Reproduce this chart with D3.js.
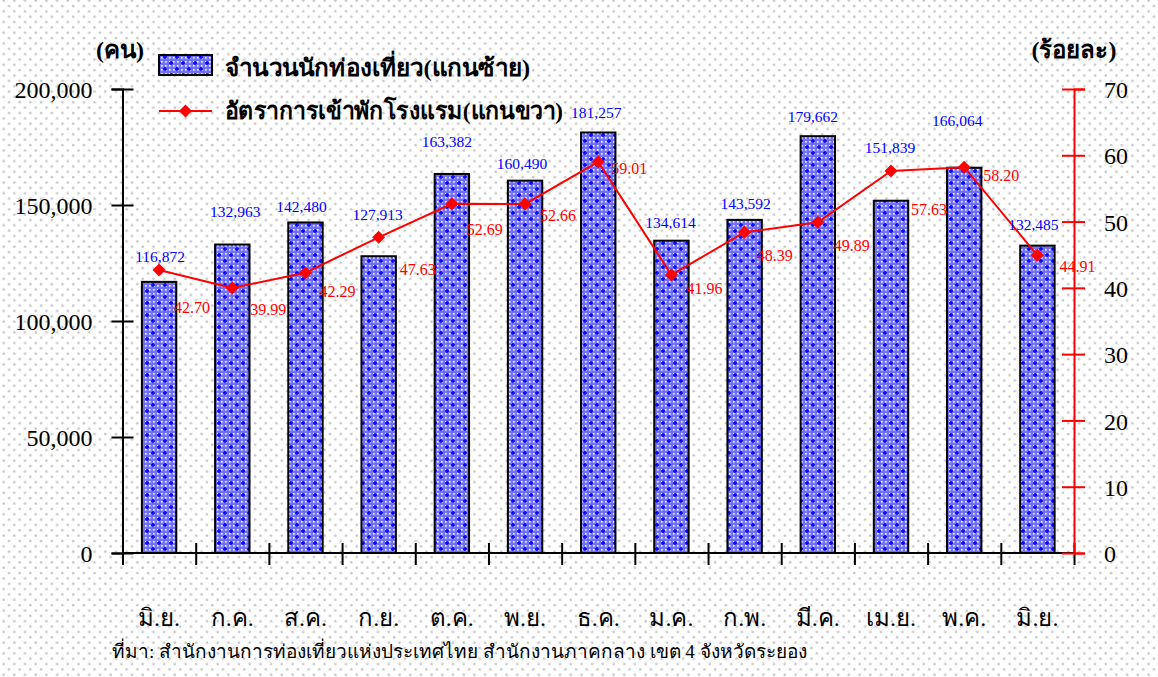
<!DOCTYPE html>
<meta charset="utf-8">
<style>
  body { margin: 0; background: #fff; }
  svg { display: block; font-family: "Liberation Serif", "Times New Roman", serif; }
  .axis path { stroke-width: 2px; }
  .axis line { stroke-width: 2px; }
  .left.axis text, .right.axis text {
    font-family: "Liberation Serif", "Times New Roman", serif;
    font-size: 24px;
    fill: #000;
  }
  .legend text { font-size: 24px; font-weight: bold; }
</style>
<body>
<script src="https://cdn.jsdelivr.net/npm/d3@7"></script>
<script>
  // months (Thai abbreviations)
  var months = ["มิ.ย.", "ก.ค.", "ส.ค.", "ก.ย.", "ต.ค.", "พ.ย.", "ธ.ค.",
    "ม.ค.", "ก.พ.", "มี.ค.", "เม.ย.", "พ.ค.", "มิ.ย."];
  // number of tourists (left axis)
  var tourists = [116872, 132963, 142480, 127913, 163382, 160490, 181257,
    134614, 143592, 179662, 151839, 166064, 132485];
  // hotel occupancy rate, percent (right axis)
  var occupancy = [42.70, 39.99, 42.29, 47.63, 52.69, 52.66, 59.01,
    41.96, 48.39, 49.89, 57.63, 58.20, 44.91];
  var leftTicks = [0, 50000, 100000, 150000, 200000];
  var rightTicks = [0, 10, 20, 30, 40, 50, 60, 70];

  var legendBar = "จำนวนนักท่องเที่ยว(แกนซ้าย)";
  var legendLine = "อัตราการเข้าพักโรงแรม(แกนขวา)";
  var unitLeft = "(คน)", unitRight = "(ร้อยละ)";
  var source = "ที่มา:  สำนักงานการท่องเที่ยวแห่งประเทศไทย สำนักงานภาคกลาง เขต 4  จังหวัดระยอง";

  // hand placed label nudges (px), as in the original sheet
  var barLabelNudge = [[1, -25], [3, -33], [-4, -16], [-1, -42], [-5, -32], [-3, -17], [-2, -20],
    [-1, -18], [1, -16], [-5, -20], [-1, -53], [-7, -47], [-4, -21]];
  var lineLabelNudge = [[15, 37], [18, 21], [14, 19], [21, 32], [15, 26], [15, 11], [13, 7],
    [15, 14], [12, 23], [16, 23], [20, 38], [19, 8], [22, 11]];

  var W = 1158, H = 677;
  var plotL = 122.5, plotR = 1074, plotT = 89, plotB = 553;

  var svg = d3.select("body").append("svg")
    .attr("width", W)
    .attr("height", H);

  var defs = svg.append("defs");

  // dotted background
  var bg = defs.append("pattern")
    .attr("id", "bgdots")
    .attr("patternUnits", "userSpaceOnUse")
    .attr("width", 10.7).attr("height", 10.7);
  bg.append("rect").attr("width", 10.7).attr("height", 10.7).attr("fill", "#fff");
  bg.append("circle").attr("cx", 9).attr("cy", 6).attr("r", 1.3).attr("fill", "#c8c8c8");
  bg.append("circle").attr("cx", 3.65).attr("cy", 0.65).attr("r", 1.3).attr("fill", "#c8c8c8");
  bg.append("circle").attr("cx", 3.65).attr("cy", 11.35).attr("r", 1.3).attr("fill", "#c8c8c8");

  // bar fill
  var bp = defs.append("pattern")
    .attr("id", "barfill")
    .attr("patternUnits", "userSpaceOnUse")
    .attr("width", 12).attr("height", 12);
  bp.append("rect").attr("width", 12).attr("height", 12).attr("fill", "#7070fa");
  d3.range(3).forEach(function (i) {
    d3.range(3).forEach(function (j) {
      bp.append("rect").attr("x", i * 4 + 1).attr("y", j * 4 + 1)
        .attr("width", 1.7).attr("height", 1.7).attr("fill", "#eeeeff");
    });
  });
  [[3, 3], [9, 9]].forEach(function (c) {
    bp.append("path")
      .attr("d", "M" + (c[0] - 2) + "," + c[1] + "h4M" + c[0] + "," + (c[1] - 2) + "v4")
      .attr("stroke", "#0000ff").attr("stroke-width", 1.4);
  });

  svg.append("rect").attr("width", W).attr("height", H).attr("fill", "url(#bgdots)");

  var idx = d3.range(months.length);
  var x = d3.scaleBand().domain(idx).range([plotL, plotR]).paddingInner(0.53).paddingOuter(0.265);
  var xb = d3.scaleLinear().domain([0, months.length]).range([plotL, plotR]);
  var y = d3.scaleLinear().domain([0, 200000]).range([plotB, plotT]);
  var y2 = d3.scaleLinear().domain([0, 70]).range([plotB, plotT]);
  var cx = function (i) { return xb(i + 0.5); };

  // bars
  svg.selectAll(".bar")
    .data(tourists)
    .enter().append("rect")
    .attr("class", "bar")
    .attr("x", function (d, i) { return cx(i) - x.bandwidth() / 2; })
    .attr("y", function (d) { return y(d); })
    .attr("width", x.bandwidth())
    .attr("height", function (d) { return y(0) - y(d); })
    .attr("fill", "url(#barfill)")
    .attr("stroke", "#000")
    .attr("stroke-width", 2);

  // left axis
  var gl = svg.append("g")
    .attr("class", "left axis")
    .attr("transform", "translate(" + plotL + ",0)")
    .call(d3.axisLeft(y).tickValues(leftTicks).tickFormat(d3.format(",")).tickSize(11).tickPadding(19));
  gl.attr("font-family", null);
  gl.select(".domain").attr("stroke", "#000");
  gl.selectAll(".tick line").attr("x1", -11).attr("x2", 11);
  gl.selectAll(".tick text").attr("dy", "0.36em");

  // x axis with ticks between months
  var gx = svg.append("g")
    .attr("class", "x axis")
    .attr("transform", "translate(0," + plotB + ")")
    .call(d3.axisBottom(xb).tickValues(d3.range(months.length + 1)).tickFormat("").tickSizeOuter(0));
  gx.selectAll(".tick line").attr("y1", -10).attr("y2", 12);
  gx.select(".domain").attr("d", "M" + plotL + ",0H" + plotR);

  svg.selectAll(".month")
    .data(months)
    .enter().append("text")
    .attr("class", "month")
    .attr("x", function (d, i) { return cx(i); })
    .attr("y", 618)
    .attr("dy", "0.35em")
    .attr("text-anchor", "middle")
    .style("font-size", "24px")
    .text(function (d) { return d; });

  // right axis
  var gr = svg.append("g")
    .attr("class", "right axis")
    .attr("transform", "translate(" + plotR + ",0)")
    .call(d3.axisRight(y2).tickValues(rightTicks).tickSize(11).tickPadding(19));
  gr.attr("font-family", null);
  gr.select(".domain").attr("stroke", "#f00");
  gr.selectAll(".tick line").attr("stroke", "#f00").attr("x1", -12).attr("x2", 11);
  gr.selectAll(".tick text").attr("dy", "0.36em");

  // occupancy line
  var line = d3.line()
    .x(function (d, i) { return cx(i); })
    .y(function (d) { return y2(d); });

  svg.append("path")
    .datum(occupancy)
    .attr("d", line)
    .attr("fill", "none")
    .attr("stroke", "#f00")
    .attr("stroke-width", 2);

  var diamond = d3.symbol().type(d3.symbolSquare).size(85);
  svg.selectAll(".marker")
    .data(occupancy)
    .enter().append("path")
    .attr("class", "marker")
    .attr("d", diamond)
    .attr("transform", function (d, i) { return "translate(" + cx(i) + "," + y2(d) + ") rotate(45)"; })
    .attr("fill", "#f00");

  // value labels
  svg.selectAll(".barlabel")
    .data(tourists)
    .enter().append("text")
    .attr("class", "barlabel")
    .attr("x", function (d, i) { return cx(i) + barLabelNudge[i][0]; })
    .attr("y", function (d, i) { return y(d) + barLabelNudge[i][1]; })
    .attr("dy", "0.35em")
    .attr("text-anchor", "middle")
    .attr("fill", "#0000ff")
    .style("font-size", "15.5px")
    .text(d3.format(","));

  svg.selectAll(".linelabel")
    .data(occupancy)
    .enter().append("text")
    .attr("class", "linelabel")
    .attr("x", function (d, i) { return cx(i) + lineLabelNudge[i][0]; })
    .attr("y", function (d, i) { return y2(d) + lineLabelNudge[i][1]; })
    .attr("dy", "0.35em")
    .attr("fill", "#f00")
    .style("font-size", "16px")
    .text(d3.format(".2f"));

  // units
  svg.append("text").attr("x", 120).attr("y", 50).attr("dy", "0.35em")
    .attr("text-anchor", "middle").style("font-size", "24px").style("font-weight", "bold")
    .text(unitLeft);
  svg.append("text").attr("x", 1074).attr("y", 50).attr("dy", "0.35em")
    .attr("text-anchor", "middle").style("font-size", "24px").style("font-weight", "bold")
    .text(unitRight);

  // legend
  var lg = svg.append("g").attr("class", "legend");
  lg.append("rect").attr("x", 159).attr("y", 55).attr("width", 53).attr("height", 20)
    .attr("fill", "url(#barfill)").attr("stroke", "#000").attr("stroke-width", 2);
  lg.append("text").attr("x", 225).attr("y", 68).attr("dy", "0.35em")
    .attr("textLength", 305).attr("lengthAdjust", "spacingAndGlyphs")
    .text(legendBar);
  lg.append("line").attr("x1", 159).attr("x2", 212).attr("y1", 111).attr("y2", 111)
    .attr("stroke", "#f00").attr("stroke-width", 2);
  lg.append("path").attr("d", diamond).attr("fill", "#f00")
    .attr("transform", "translate(185.5,111) rotate(45)");
  lg.append("text").attr("x", 225).attr("y", 111).attr("dy", "0.35em")
    .attr("textLength", 338).attr("lengthAdjust", "spacingAndGlyphs")
    .text(legendLine);

  // source note
  svg.append("text").attr("x", 112).attr("y", 651).attr("dy", "0.35em")
    .style("font-size", "19px")
    .text(source);
</script>
</body>
